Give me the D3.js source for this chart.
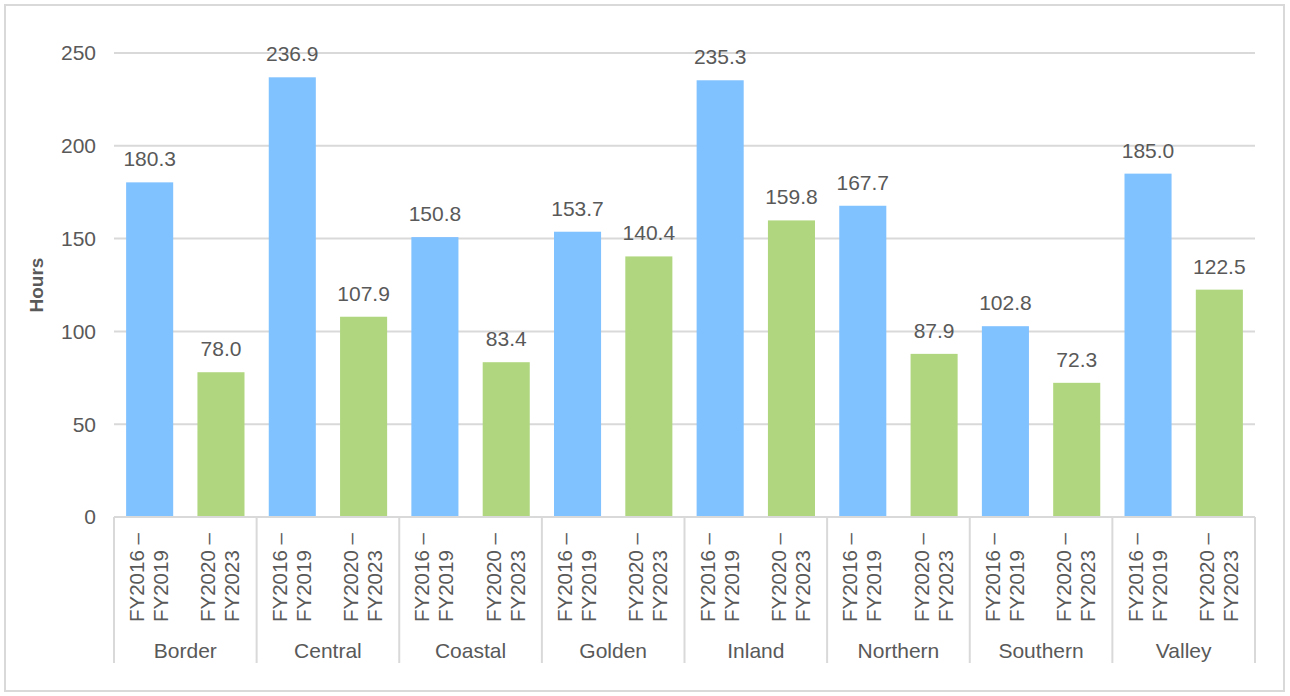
<!DOCTYPE html>
<html>
<head>
<meta charset="utf-8">
<script src="https://cdn.jsdelivr.net/npm/d3@7"></script>
<style>
  html, body { margin: 0; padding: 0; background: #fff; }
  svg { display: block; font-family: "Liberation Sans", Arial, sans-serif; }
</style>
</head>
<body>
<svg id="chart" width="1290" height="696"></svg>
<script>
// Regions and the two reporting periods
const regions = ["Border", "Central", "Coastal", "Golden", "Inland", "Northern", "Southern", "Valley"];
const periods = ["FY2016 – FY2019", "FY2020 – FY2023"];
const periodLines = [["FY2016 –", "FY2019"], ["FY2020 –", "FY2023"]];

// Hours per region for each period
const hoursEarly = [180.3, 236.9, 150.8, 153.7, 235.3, 167.7, 102.8, 185.0];
const hoursLate  = [78.0, 107.9, 83.4, 140.4, 159.8, 87.9, 72.3, 122.5];

const yTicks = [0, 50, 100, 150, 200, 250];

const colors = ["#80c1ff", "#b0d77f"];
const textColor = "#595959";
const gridColor = "#d9d9d9";
const fontSize = 21;

const svg = d3.select("#chart");
const W = 1290, H = 696;

// Outer frame
svg.append("rect")
  .attr("x", 5).attr("y", 5).attr("width", W - 11).attr("height", H - 10)
  .attr("fill", "#fff").attr("stroke", gridColor).attr("stroke-width", 2);

const plot = { left: 114, right: 1255, top: 53, bottom: 517 };

const x0 = d3.scaleBand().domain(regions).range([plot.left, plot.right]).padding(0);
const x1 = d3.scaleBand().domain(periods).range([0, x0.bandwidth()])
  .paddingInner(0.34).paddingOuter(0.17);
const y = d3.scaleLinear().domain([0, 250]).range([plot.bottom, plot.top]);

// Horizontal gridlines
svg.append("g")
  .selectAll("line")
  .data(yTicks.filter(t => t > 0))
  .join("line")
  .attr("x1", plot.left).attr("x2", plot.right)
  .attr("y1", d => y(d)).attr("y2", d => y(d))
  .attr("stroke", gridColor).attr("stroke-width", 2);

// Value axis labels
svg.append("g")
  .selectAll("text")
  .data(yTicks)
  .join("text")
  .attr("x", 96).attr("y", d => y(d)).attr("dy", "0.35em")
  .attr("text-anchor", "end")
  .attr("fill", textColor).attr("font-size", fontSize)
  .text(d => d);

// Axis title
svg.append("text")
  .attr("transform", `translate(43, 285) rotate(-90)`)
  .attr("text-anchor", "middle")
  .attr("font-weight", "bold").attr("font-size", 19)
  .attr("fill", textColor)
  .text("Hours");

// Bars
const series = [hoursEarly, hoursLate];
const rows = [];
regions.forEach((r, i) => {
  periods.forEach((p, j) => rows.push({ region: r, period: p, j, value: series[j][i] }));
});

svg.append("g")
  .selectAll("rect")
  .data(rows)
  .join("rect")
  .attr("x", d => x0(d.region) + x1(d.period))
  .attr("y", d => y(d.value))
  .attr("width", x1.bandwidth())
  .attr("height", d => y(0) - y(d.value))
  .attr("fill", d => colors[d.j]);

// Value labels above bars
svg.append("g")
  .selectAll("text")
  .data(rows)
  .join("text")
  .attr("x", d => x0(d.region) + x1(d.period) + x1.bandwidth() / 2)
  .attr("y", d => y(d.value) - 16)
  .attr("text-anchor", "middle")
  .attr("fill", textColor).attr("font-size", fontSize)
  .text(d => d.value.toFixed(1));

// Category axis: baseline and group separators
svg.append("line")
  .attr("x1", plot.left).attr("x2", plot.right)
  .attr("y1", plot.bottom).attr("y2", plot.bottom)
  .attr("stroke", gridColor).attr("stroke-width", 2);

const bounds = regions.map(r => x0(r)).concat([plot.right]);
svg.append("g")
  .selectAll("line")
  .data(bounds)
  .join("line")
  .attr("x1", d => d).attr("x2", d => d)
  .attr("y1", plot.bottom).attr("y2", 663)
  .attr("stroke", gridColor).attr("stroke-width", 2);

// Rotated period labels
const tickG = svg.append("g")
  .selectAll("g")
  .data(rows)
  .join("g")
  .attr("transform", d => `translate(${x0(d.region) + x1(d.period) + x1.bandwidth() / 2}, 622) rotate(-90)`);

tickG.each(function(d) {
  const t = d3.select(this).append("text")
    .attr("fill", textColor).attr("font-size", 20.5)
    .attr("text-anchor", "start");
  periodLines[d.j].forEach((line, k) => {
    t.append("tspan").attr("x", 0).attr("y", -5.5 + k * 24).text(line);
  });
});

// Region labels
svg.append("g")
  .selectAll("text")
  .data(regions)
  .join("text")
  .attr("x", d => x0(d) + x0.bandwidth() / 2)
  .attr("y", 658)
  .attr("text-anchor", "middle")
  .attr("fill", textColor).attr("font-size", fontSize)
  .text(d => d);
</script>
</body>
</html>
